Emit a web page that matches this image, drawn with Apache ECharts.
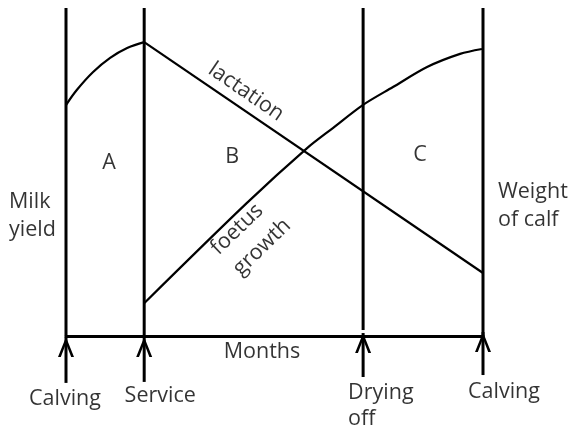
<!DOCTYPE html>
<html>
<head>
<meta charset="utf-8">
<title>Milk yield and weight of calf over the cycle</title>
<script src="https://cdn.jsdelivr.net/npm/echarts@6/dist/echarts.min.js"></script>
<style>
  html, body { margin: 0; padding: 0; background: #fff; }
  #chart { width: 568px; height: 431px; }
</style>
</head>
<body>
<div id="chart"></div>
<script>
// ── data ─────────────────────────────────────────────────────────────────────
// Key events of the cycle, in months since calving
const eventNames  = ['Calving', 'Service', 'Drying\noff', 'Calving'];
const eventMonths = [0, 2.25, 8.55, 12];
// the drying-off line stops a little short of the axis
const eventLineBase = [0, 0, 1.8, 0];

const phaseNames = ['A', 'B', 'C'];

// Milk yield: climbs to a peak at service, then falls away in a straight line
const lactationRise = [[0, 70.4], [0.31, 75.0], [0.78, 80.5], [1.27, 84.8], [1.76, 87.8], [2.25, 89.6]];
const lactationFall = [[2.25, 89.6], [12, 19.2]];

// Weight of calf, from service to the next calving
const foetusGrowth = [
  [2.25, 10.0], [5.2, 40.5], [6.93, 57.2], [7.68, 63.4],
  [8.54, 70.4], [9.41, 75.9], [10.39, 82.0], [11.34, 86.0], [11.97, 87.5],
];

// ── layout / style ───────────────────────────────────────────────────────────
const INK  = '#000';
const FONT = '"Open Sans", "DejaVu Sans", sans-serif';
const FONT_SIZE = 21.5;

// arrow shafts below the axis (y in chart units)
const arrowTail = [-14.3, -14.0, -12.5, -11.9];
const arrowTip  = [-0.3, -0.3, 0.9, 1.2];
// open chevron head, tip at the top centre
const CHEVRON = 'path://M0,20 L8,0 L16,20 L13.2,20 L8,6.5 L2.8,20 Z';

// pixel offsets of the event labels from the foot of their line
const eventLabelOffset = [[-1, 63], [16, 60], [-15, 70], [21, 56]];
const eventLabelAlign  = ['center', 'center', 'left', 'center'];

// free-standing labels, in chart units
const phaseAt = [[1.24, 52.7], [4.78, 54.6], [10.19, 55.2]];

const chart = echarts.init(document.getElementById('chart'));

const series = [];

// vertical event lines
eventMonths.forEach((m, i) => {
  series.push({
    type: 'line', silent: true, symbol: 'none', clip: false,
    lineStyle: { color: INK, width: 3 },
    data: [[m, eventLineBase[i]], [m, 100]],
  });
});

// arrows pointing up at each event
eventMonths.forEach((m, i) => {
  series.push({
    type: 'line', silent: true, clip: false,
    itemStyle: { color: INK },
    lineStyle: { color: INK, width: 3 },
    data: [
      { value: [m, arrowTail[i]], symbol: 'none' },
      { value: [m, arrowTip[i]], symbol: CHEVRON, symbolSize: [16, 20], symbolOffset: [0, 10] },
    ],
  });
});

// lactation and foetus curves
series.push(
  {
    name: 'lactation', type: 'line', silent: true, symbol: 'none', clip: false, smooth: 0.4,
    lineStyle: { color: INK, width: 2.2 }, data: lactationRise,
  },
  {
    name: 'lactation', type: 'line', silent: true, symbol: 'none', clip: false,
    lineStyle: { color: INK, width: 2.2 }, data: lactationFall,
  },
  {
    name: 'foetus growth', type: 'line', silent: true, symbol: 'none', clip: false, smooth: 0.3,
    lineStyle: { color: INK, width: 2.2 }, data: foetusGrowth,
  },
);

// text annotations, placed through the chart's own scales
const textBase = { show: true, position: 'inside', color: INK, fontFamily: FONT, fontSize: FONT_SIZE };
const notes = [];
phaseNames.forEach((n, i) => notes.push({ name: n, value: phaseAt[i] }));
notes.push(
  { name: 'lactation', value: [5.18, 74.4], label: { rotate: -34.5 } },
  { name: 'foetus', value: [4.92, 32.5], label: { rotate: 44 } },
  { name: 'growth', value: [5.64, 27.1], label: { rotate: 44 } },
  { name: 'Milk\nyield', value: [-1.64, 36.6], label: { align: 'left', lineHeight: 28 } },
  { name: 'Weight\nof calf', value: [12.43, 39.6], label: { align: 'left', lineHeight: 28 } },
  { name: 'Months', value: [5.64, 0], label: { offset: [0, 16] } },
);
eventMonths.forEach((m, i) => {
  notes.push({
    name: eventNames[i], value: [m, 0],
    label: { align: eventLabelAlign[i], offset: eventLabelOffset[i], lineHeight: 26 },
  });
});

series.push({
  type: 'scatter', silent: true, clip: false,
  symbolSize: 1, itemStyle: { color: 'transparent' },
  label: { ...textBase, formatter: (p) => p.name },
  data: notes,
});

chart.setOption({
  backgroundColor: '#fff',
  animation: false,
  grid: { left: 66, right: 85, top: 8, bottom: 29.4, containLabel: false },
  xAxis: {
    type: 'value', min: 0, max: 12,
    axisLine: { show: true, onZero: true, lineStyle: { color: INK, width: 3 } },
    axisTick: { show: false },
    axisLabel: { show: false },
    splitLine: { show: false },
  },
  yAxis: { type: 'value', min: -20, max: 100, show: false },
  series,
});
</script>
</body>
</html>
